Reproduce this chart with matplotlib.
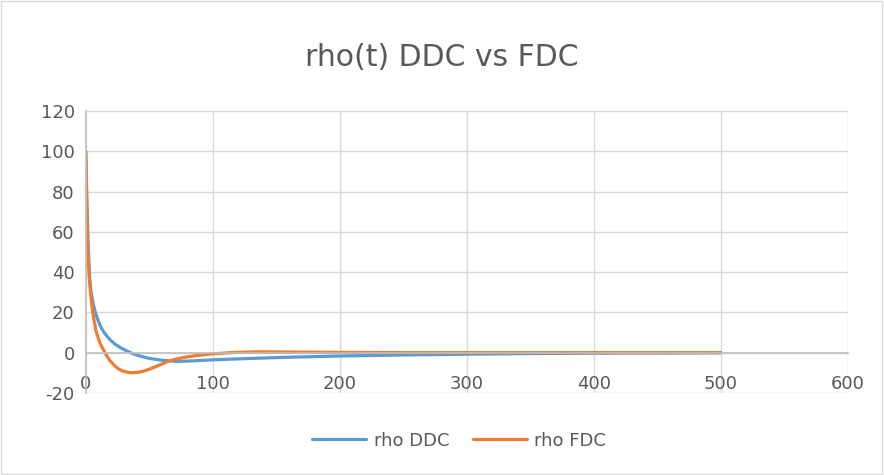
import numpy as np
import matplotlib.pyplot as plt
from matplotlib.patches import Rectangle

plt.rcParams['axes.unicode_minus'] = False

# values
t_ddc = [0, 1, 2, 3, 4, 5, 6.5, 8, 10, 12, 15, 19, 23, 28, 35, 42, 50, 60, 72, 85, 100,
         130, 160, 200, 250, 300, 350, 400, 450, 500]
rho_ddc = [100, 72, 52, 38, 31, 27, 22.5, 19, 15.5, 12.5, 9.5, 6.5, 4.2, 2.2, 0, -1.6, -2.9,
           -3.8, -4.4, -4.1, -3.6, -2.9, -2.3, -1.7, -1.2, -0.8, -0.5, -0.3, -0.2, -0.1]

t_fdc = [0, 1, 1.8, 3, 4.5, 6, 8, 11, 15, 19, 22, 25, 28, 31, 34, 37, 41, 45, 50, 55, 60,
         64, 70, 75, 82, 88, 100, 115, 135, 160, 200, 250, 300, 400, 500]
rho_fdc = [100, 68, 48, 35, 25, 18, 11, 5, 0, -4, -6, -7.8, -8.9, -9.5, -9.9, -10, -9.8,
           -9.3, -8.3, -7, -5.7, -4.5, -3.4, -2.7, -1.9, -1.4, -0.6, 0, 0.4, 0.3, 0.1, 0, 0, 0, 0]

grey = '#595959'
fig = plt.figure(figsize=(8.84, 4.75), dpi=100)
fig.patches.append(Rectangle((0.001, 0.002), 0.997, 0.996, transform=fig.transFigure,
                             fill=False, edgecolor='#d9d9d9', linewidth=1))
ax = fig.add_axes([0.097, 0.173, 0.862, 0.593])
ax.plot(t_ddc, rho_ddc, color='#5b9bd5', linewidth=2.3, label='rho DDC', solid_capstyle='round')
ax.plot(t_fdc, rho_fdc, color='#ed7d31', linewidth=2.3, label='rho FDC', solid_capstyle='round')

ax.set_xlim(0, 600)
ax.set_ylim(-20, 120)
ax.set_xticks(np.arange(0, 601, 100))
ax.set_yticks(np.arange(-20, 121, 20))
ax.grid(True, color='#d9d9d9', linewidth=1)
ax.set_axisbelow(True)
for s in ['top', 'right']:
    ax.spines[s].set_visible(False)
ax.spines['bottom'].set_position(('data', 0))
ax.spines['bottom'].set_color('#bfbfbf')
ax.spines['left'].set_color('#bfbfbf')
ax.spines['bottom'].set_linewidth(1.2)
ax.spines['left'].set_linewidth(1.2)
ax.tick_params(axis='both', length=0, labelsize=13, colors=grey)
ax.tick_params(axis='x', pad=16)
ax.tick_params(axis='y', pad=8)

fig.suptitle('rho(t) DDC vs FDC', y=0.878, va='center', fontsize=21.5, color=grey)
ax.legend(loc='center', bbox_to_anchor=(0.49, -0.17), ncol=2, frameon=False,
          fontsize=13, labelcolor=grey, handlelength=3.0, handletextpad=0.4,
          columnspacing=1.3)

fig.savefig('out.png', dpi=100)
